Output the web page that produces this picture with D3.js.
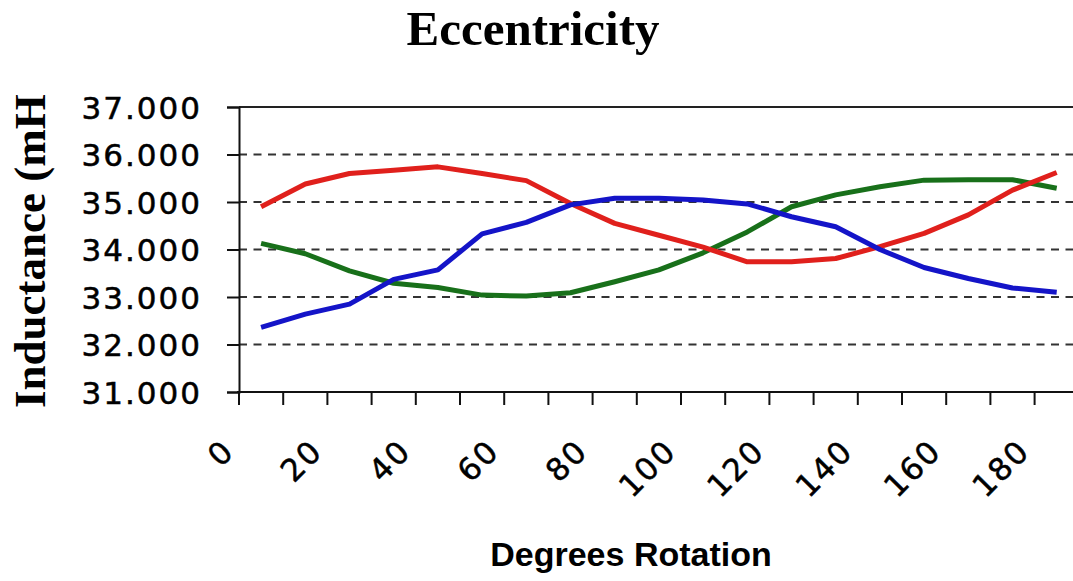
<!DOCTYPE html>
<html>
<head>
<meta charset="utf-8">
<script src="https://cdn.jsdelivr.net/npm/d3@7"></script>
<style>
  html, body { margin: 0; padding: 0; background: #fff; }
  svg { display: block; }
</style>
</head>
<body>
<script>
// ---- data ----
const degrees = [0, 10, 20, 30, 40, 50, 60, 70, 80, 90, 100, 110, 120, 130, 140, 150, 160, 170, 180];
const redSeries   = [34.90, 35.38, 35.60, 35.67, 35.74, 35.60, 35.45, 34.97, 34.55, 34.30, 34.05, 33.74, 33.74, 33.81, 34.06, 34.34, 34.73, 35.25, 35.62];
const greenSeries = [34.13, 33.91, 33.55, 33.29, 33.20, 33.04, 33.02, 33.09, 33.32, 33.57, 33.93, 34.37, 34.90, 35.15, 35.32, 35.46, 35.47, 35.47, 35.29];
const blueSeries  = [32.36, 32.64, 32.85, 33.37, 33.57, 34.33, 34.57, 34.94, 35.08, 35.08, 35.04, 34.96, 34.69, 34.48, 34.00, 33.62, 33.39, 33.19, 33.10];
const yTicks = [31, 32, 33, 34, 35, 36, 37];
const xLabelDegrees = [0, 20, 40, 60, 80, 100, 120, 140, 160, 180];
const titleText = "Eccentricity";
const xTitle = "Degrees Rotation";
const yTitle = "Inductance (mH)";

const W = 1073, H = 581;
const plot = { left: 239, right: 239 + 19 * 44.2, top: 107, bottom: 392 };

const svg = d3.select("body").append("svg").attr("width", W).attr("height", H);
svg.append("rect").attr("width", W).attr("height", H).attr("fill", "#fff");

const x = d3.scaleBand().domain(degrees).range([plot.left, plot.right]).padding(0);
const y = d3.scaleLinear().domain([31, 37]).range([plot.bottom, plot.top]);

const tickFont = "'DejaVu Sans', sans-serif";

// grid lines (dashed)
svg.append("g").selectAll("line").data(yTicks.filter(v => v > 31 && v < 37)).join("line")
  .attr("x1", plot.left).attr("x2", plot.right)
  .attr("y1", d => y(d)).attr("y2", d => y(d))
  .attr("stroke", "#333").attr("stroke-width", 2).attr("stroke-dasharray", "8,6.5");

// top border
svg.append("line").attr("x1", plot.left).attr("x2", plot.right)
  .attr("y1", y(37)).attr("y2", y(37)).attr("stroke", "#222").attr("stroke-width", 2);

// y axis
const yAxis = d3.axisLeft(y).tickValues(yTicks).tickSize(12).tickFormat(d3.format(".3f"));
const gy = svg.append("g").attr("transform", `translate(${plot.left},0)`).call(yAxis);
gy.select(".domain").attr("stroke", "#111").attr("stroke-width", 2);
gy.selectAll(".tick line").attr("stroke", "#111").attr("stroke-width", 2);
gy.selectAll(".tick text")
  .attr("x", -37)
  .attr("dy", "0.36em")
  .style("font-family", tickFont)
  .style("font-size", "31px")
  .style("letter-spacing", "2px")
  .attr("fill", "#000")
  .attr("stroke", "#000").attr("stroke-width", 0.5);

// x axis: tick marks at category boundaries
const boundaries = degrees.map(d => x(d)).concat([x(degrees[degrees.length - 1]) + x.bandwidth()]);
svg.append("line").attr("x1", plot.left - 2).attr("x2", plot.right)
  .attr("y1", plot.bottom).attr("y2", plot.bottom).attr("stroke", "#111").attr("stroke-width", 2);
svg.append("g").selectAll("line").data(boundaries).join("line")
  .attr("x1", d => d).attr("x2", d => d)
  .attr("y1", plot.bottom).attr("y2", plot.bottom + 13)
  .attr("stroke", "#111").attr("stroke-width", 2);

// x labels, rotated -45
svg.append("g").selectAll("text").data(xLabelDegrees).join("text")
  .attr("transform", d => `translate(${x(d) - 3},${plot.bottom + 61}) rotate(-45)`)
  .attr("text-anchor", "end")
  .style("font-family", tickFont)
  .style("font-size", "31px")
  .style("letter-spacing", "2px")
  .attr("fill", "#000")
  .attr("stroke", "#000").attr("stroke-width", 0.5)
  .text(d => d);

// lines
const line = d3.line()
  .x((d, i) => x(degrees[i]) + x.bandwidth() / 2)
  .y(d => y(d));

const seriesList = [
  { values: greenSeries, color: "#18701a" },
  { values: redSeries, color: "#e0201c" },
  { values: blueSeries, color: "#1414c8" }
];
svg.append("g").selectAll("path").data(seriesList).join("path")
  .attr("d", d => line(d.values))
  .attr("fill", "none")
  .attr("stroke", d => d.color)
  .attr("stroke-width", 5)
  .attr("stroke-linejoin", "round");

// title
svg.append("text")
  .attr("x", 533).attr("y", 45)
  .attr("text-anchor", "middle")
  .style("font-family", "'Liberation Serif', 'Times New Roman', serif")
  .style("font-weight", "bold")
  .style("font-size", "49px")
  .attr("fill", "#000")
  .text(titleText);

// x title
svg.append("text")
  .attr("x", 631).attr("y", 566)
  .attr("text-anchor", "middle")
  .style("font-family", "'Liberation Sans', Arial, sans-serif")
  .style("font-weight", "bold")
  .style("font-size", "34px")
  .attr("fill", "#000")
  .text(xTitle);

// y title (clipped at top as in reference)
svg.append("clipPath").attr("id", "ytclip")
  .append("rect").attr("x", 0).attr("y", 95).attr("width", 80).attr("height", 400);
svg.append("g").attr("clip-path", "url(#ytclip)")
  .append("text")
  .attr("transform", "translate(45,408) rotate(-90)")
  .attr("text-anchor", "start")
  .style("font-family", "'Liberation Serif', 'Times New Roman', serif")
  .style("font-weight", "bold")
  .style("font-size", "45px")
  .attr("fill", "#000")
  .text(yTitle);
</script>
</body>
</html>
